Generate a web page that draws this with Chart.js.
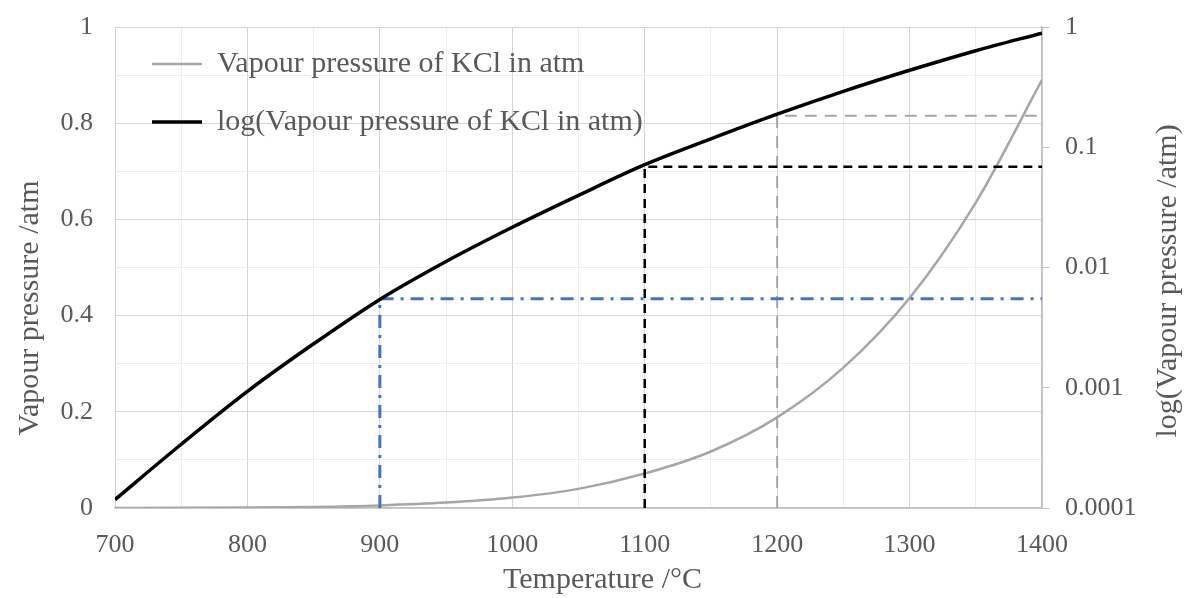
<!DOCTYPE html>
<html>
<head>
<meta charset="utf-8">
<script src="https://cdn.jsdelivr.net/npm/chart.js@4"></script>
<style>
  body { margin: 0; background: #fff; }
  #wrap { width: 1195px; height: 598px; }
</style>
</head>
<body>
<div id="wrap"><canvas id="kcl" width="1195" height="598"></canvas></div>
<script>
// temperatures (°C) and KCl vapour pressure (atm)
const temps = [700, 750, 800, 850, 900, 950, 1000, 1050, 1100, 1150, 1200, 1250, 1300, 1350, 1400];
const pressure = [0.0001175, 0.000339, 0.000933, 0.00232, 0.00543, 0.01122, 0.0216, 0.0398, 0.0716, 0.1175, 0.1884, 0.2917, 0.4365, 0.635, 0.89];

// guide lines: temperature and the pressure read at it
const guideTemps = [900, 1100, 1200];
const guidePressures = [0.0055, 0.069, 0.183];

// tick labels
const xTickLabels = [700, 800, 900, 1000, 1100, 1200, 1300, 1400];
const yTickLabels = [0, 0.2, 0.4, 0.6, 0.8, 1];
const y2TickLabels = [0.0001, 0.001, 0.01, 0.1, 1];

const xTitle = 'Temperature /°C';
const yTitle = 'Vapour pressure /atm';
const y2Title = 'log(Vapour pressure /atm)';

const textGrey = '#595959';
const serif = 'Liberation Serif';
const gridMajor = '#d4d4d4';
const gridMinor = '#ececec';

function guide(i, color, width, dash) {
    return {
        label: 'guide' + i,
        data: [
            { x: guideTemps[i], y: y2TickLabels[0] },
            { x: guideTemps[i], y: guidePressures[i] },
            { x: xTickLabels[xTickLabels.length - 1], y: guidePressures[i] }
        ],
        yAxisID: 'y2',
        borderColor: color,
        borderWidth: width,
        borderDash: dash,
        pointRadius: 0,
        tension: 0,
        order: 1
    };
}

// legend sits inside the plot, a bit in from the corner
const legendNudge = {
    id: 'legendNudge',
    afterLayout(chart) {
        if (chart.legend) {
            chart.legend.left += 9;
            chart.legend.top += 21;
        }
    }
};

// axis titles, both side titles read bottom-to-top like the original
const axisTitles = {
    id: 'axisTitles',
    afterDraw(chart) {
        const a = chart.chartArea;
        const c = chart.ctx;
        c.save();
        c.fillStyle = textGrey;
        c.font = '30px "' + serif + '"';
        c.textAlign = 'center';
        c.textBaseline = 'middle';
        c.fillText(xTitle, (a.left + a.right) / 2 + 24, chart.height - 18);

        c.translate(30, a.bottom - 200);
        c.rotate(-Math.PI / 2);
        c.fillText(yTitle, 0, 0);
        c.restore();

        c.save();
        c.fillStyle = textGrey;
        c.font = '30px "' + serif + '"';
        c.textAlign = 'center';
        c.textBaseline = 'middle';
        c.translate(chart.width - 27, a.bottom - 227);
        c.rotate(-Math.PI / 2);
        c.fillText(y2Title, 0, 0);
        c.restore();
    }
};

// keep the top/bottom tick labels from pushing the plot area inwards
function fixSide(width) {
    return (s) => {
        s.width = width;
        s.paddingTop = 0;
        s.paddingBottom = 0;
    };
}

let ctx = document.getElementById('kcl').getContext('2d');
let kclChart = new Chart(ctx, {
    type: 'line',
    data: {
        datasets: [{
            label: 'Vapour pressure of KCl in atm',
            data: temps.map((t, i) => ({ x: t, y: pressure[i] })),
            yAxisID: 'y',
            borderColor: '#a6a6a6',
            borderWidth: 2.5,
            pointRadius: 0,
            cubicInterpolationMode: 'monotone',
            order: 2
        }, {
            label: 'log(Vapour pressure of KCl in atm)',
            data: temps.map((t, i) => ({ x: t, y: pressure[i] })),
            yAxisID: 'y2',
            borderColor: '#000000',
            borderWidth: 3.5,
            pointRadius: 0,
            cubicInterpolationMode: 'monotone',
            order: 0
        },
            guide(0, '#4472c4', 3, [13, 7, 3, 7]),
            guide(1, '#000000', 2.5, [9, 6]),
            guide(2, '#a6a6a6', 2, [12, 8])
        ]
    },
    options: {
        responsive: false,
        animation: false,
        layout: { padding: { top: 27, left: 0, right: 0, bottom: 0 } },
        plugins: {
            tooltip: { enabled: false },
            legend: {
                position: 'chartArea',
                align: 'start',
                labels: {
                    filter: (item) => item.datasetIndex < 2,
                    sort: (a, b) => a.datasetIndex - b.datasetIndex,
                    usePointStyle: true,
                    pointStyle: 'line',
                    pointStyleWidth: 50,
                    padding: 28,
                    color: textGrey,
                    font: { family: serif, size: 30 }
                }
            }
        },
        scales: {
            x: {
                type: 'linear',
                min: 700,
                max: 1400,
                afterFit: (s) => { s.height = 90; },
                ticks: {
                    stepSize: 50,
                    autoSkip: false,
                    maxRotation: 0,
                    padding: 22,
                    color: textGrey,
                    font: { family: serif, size: 26 },
                    callback: (v) => xTickLabels.includes(v) ? String(v) : ''
                },
                grid: {
                    drawTicks: false,
                    color: (c) => c.tick && c.tick.value % 100 === 0 ? gridMajor : gridMinor
                },
                border: { color: '#bfbfbf', width: 1.5 }
            },
            y: {
                position: 'left',
                min: 0,
                max: 1,
                afterFit: fixSide(115),
                ticks: {
                    stepSize: 0.05,
                    padding: 22,
                    color: textGrey,
                    font: { family: serif, size: 26 },
                    callback: (v) => yTickLabels.some(l => Math.abs(l - v) < 1e-6) ? String(Math.round(v * 10) / 10) : ''
                },
                grid: {
                    drawTicks: false,
                    color: (c) => {
                        let v = c.tick ? c.tick.value * 5 : 0;
                        return Math.abs(v - Math.round(v)) < 1e-6 ? gridMajor : gridMinor;
                    }
                },
                border: { display: false }
            },
            y2: {
                type: 'logarithmic',
                position: 'right',
                min: 0.0001,
                max: 1,
                afterFit: fixSide(153),
                afterBuildTicks: (s) => { s.ticks = y2TickLabels.map(v => ({ value: v })); },
                ticks: {
                    padding: 16,
                    color: textGrey,
                    font: { family: serif, size: 26 },
                    callback: (v) => String(v)
                },
                grid: {
                    drawOnChartArea: false,
                    drawTicks: true,
                    tickLength: 7,
                    color: '#bfbfbf'
                },
                border: { color: '#bfbfbf', width: 1.5 }
            }
        }
    },
    plugins: [legendNudge, axisTitles]
});
</script>
</body>
</html>
